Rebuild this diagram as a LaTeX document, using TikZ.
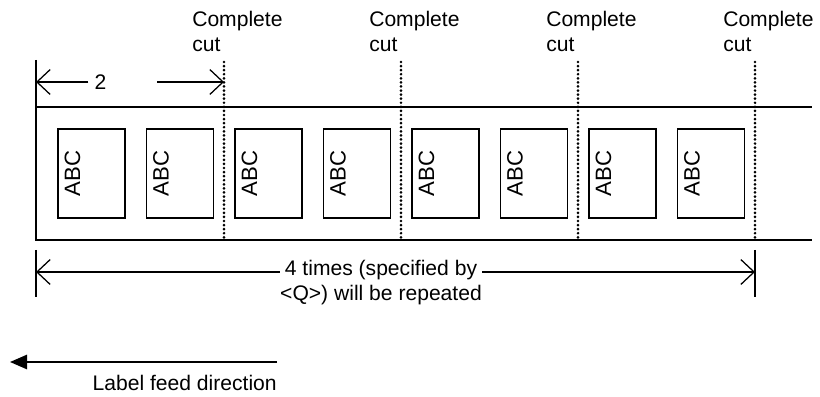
\documentclass[tikz,border=0pt]{standalone}
\usepackage{fontspec}
\setmainfont{Liberation Sans}
\usetikzlibrary{arrows.meta,positioning}

\begin{document}
\begin{tikzpicture}[
   every node/.style={font=\fontsize{15}{17.8}\selectfont, inner sep=0pt},
   line/.style={line width=0.9pt},
   cutline/.style={line width=2.1pt, line cap=round, dash pattern=on 0pt off 2.9pt},
   lbl/.style={draw, line width=0.9pt, minimum width=1.675cm, minimum height=2.225cm},
   abc/.style={rotate=90, font=\fontsize{15.8}{18}\selectfont},
   cuttext/.style={align=left, anchor=south west},
   dim/.style={line width=0.9pt, -{Straight Barb[length=3.3mm,width=6.2mm]}},
   dimboth/.style={line width=0.9pt, {Straight Barb[length=3.3mm,width=6.2mm]}-{Straight Barb[length=3.3mm,width=6.2mm]}},
   feed/.style={line width=1.4pt, -{Triangle[length=4.3mm,width=3.6mm]}}
]
   \useasboundingbox (0,0) rectangle (20.5,9.9);

   \coordinate (sTop) at (0.9,8.4);
   \coordinate (sTL) at (0.9,7.225);
   \coordinate (sBL) at (0.9,3.9);
   \coordinate (sTR) at (20.3,7.225);
   \coordinate (sBR) at (20.3,3.9);
   \draw[line] (sTL) -- (sTR);
   \draw[line] (sTop) -- (sBL) -- (sBR);

   \node[lbl] (lbl1) at (2.2875,5.5625) {};
   \node[abc] (abc1) at ([xshift=0.38cm]lbl1.west) {ABC};
   \node[lbl] (lbl2) at (4.5,5.5625) {};
   \node[abc] (abc2) at ([xshift=0.38cm]lbl2.west) {ABC};
   \node[lbl] (lbl3) at (6.7125,5.5625) {};
   \node[abc] (abc3) at ([xshift=0.38cm]lbl3.west) {ABC};
   \node[lbl] (lbl4) at (8.925,5.5625) {};
   \node[abc] (abc4) at ([xshift=0.38cm]lbl4.west) {ABC};
   \node[lbl] (lbl5) at (11.1375,5.5625) {};
   \node[abc] (abc5) at ([xshift=0.38cm]lbl5.west) {ABC};
   \node[lbl] (lbl6) at (13.35,5.5625) {};
   \node[abc] (abc6) at ([xshift=0.38cm]lbl6.west) {ABC};
   \node[lbl] (lbl7) at (15.5625,5.5625) {};
   \node[abc] (abc7) at ([xshift=0.38cm]lbl7.west) {ABC};
   \node[lbl] (lbl8) at (17.775,5.5625) {};
   \node[abc] (abc8) at ([xshift=0.38cm]lbl8.west) {ABC};

   \coordinate (cut1t) at (5.6,8.35);
   \coordinate (cut1b) at (5.6,3.95);
   \draw[cutline] (cut1t) -- (cut1b);
   \node[cuttext] (cut1) at ([xshift=-0.8cm,yshift=0.25cm]cut1t) {Complete\\cut};
   \coordinate (cut2t) at (10.025,8.35);
   \coordinate (cut2b) at (10.025,3.95);
   \draw[cutline] (cut2t) -- (cut2b);
   \node[cuttext] (cut2) at ([xshift=-0.8cm,yshift=0.25cm]cut2t) {Complete\\cut};
   \coordinate (cut3t) at (14.45,8.35);
   \coordinate (cut3b) at (14.45,3.95);
   \draw[cutline] (cut3t) -- (cut3b);
   \node[cuttext] (cut3) at ([xshift=-0.8cm,yshift=0.25cm]cut3t) {Complete\\cut};
   \coordinate (cut4t) at (18.875,8.35);
   \coordinate (cut4b) at (18.875,3.95);
   \draw[cutline] (cut4t) -- (cut4b);
   \node[cuttext] (cut4) at ([xshift=-0.8cm,yshift=0.25cm]cut4t) {Complete\\cut};

   \node (two) at (2.51,7.85) {2};
   \coordinate (twoR) at (3.925,7.85);
   \draw[dim] ([xshift=-0.15cm]two.west) -- (two -| sTop);
   \draw[dim] (twoR) -- (twoR -| cut1t);

   \coordinate (tickL1) at (0.9,3.65);
   \coordinate (tickL2) at (0.9,2.475);
   \coordinate (tickR1) at (18.875,3.65);
   \coordinate (tickR2) at (18.875,2.475);
   \draw[line] (tickL1) -- (tickL2);
   \draw[line] (tickR1) -- (tickR2);
   \coordinate (dimL) at (0.9,3.1);
   \coordinate (dimR) at (18.875,3.1);
   \draw[dimboth] (dimL) -- (dimR);
   \node[align=center, fill=white, anchor=north] (rep) at (9.525,3.4) {4 times (specified by\\<Q>) will be repeated};

   \coordinate (feedS) at (6.925,0.85);
   \coordinate (feedE) at (0.25,0.85);
   \draw[feed] (feedS) -- (feedE);
   \node[anchor=north east] (feedtxt) at ([yshift=-0.33cm]feedS) {Label feed direction};
\end{tikzpicture}
\end{document}
